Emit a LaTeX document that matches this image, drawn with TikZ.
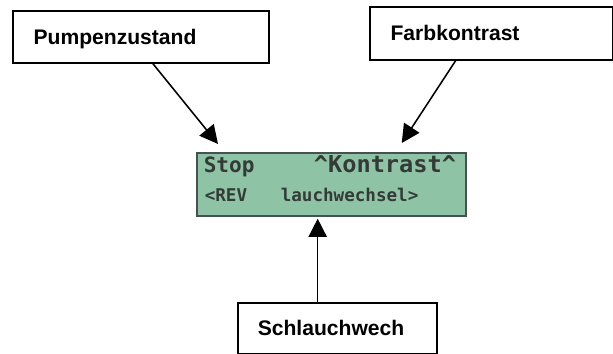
\documentclass[tikz,border=0pt]{standalone}
\usepackage{fontspec}
\setmainfont{Liberation Sans}
\newfontfamily\lcdfont{DejaVu Sans Mono}
\usetikzlibrary{arrows.meta}

\definecolor{lcdgreen}{RGB}{142,195,166}
\definecolor{lcdframe}{RGB}{70,82,82}
\definecolor{lcdink}{RGB}{52,58,54}

\begin{document}
\begin{tikzpicture}[
  x=0.025cm, y=-0.025cm,
  line width=1.1pt,
  %% Main node styles
  label box/.style={
    draw=black, fill=white, align=left, anchor=north west,
    inner xsep=0.52cm, inner ysep=0pt, text depth=0pt,
    font=\fontsize{15}{17}\selectfont\bfseries
  },
  display/.style={
    draw=lcdframe, fill=lcdgreen, line width=1.2pt, anchor=north west,
    minimum width=6.725cm, minimum height=1.575cm, inner sep=0pt
  },
  lcd big/.style={
    anchor=base west, inner sep=0pt, text=lcdink,
    font=\lcdfont\bfseries\fontsize{15}{15}\selectfont
  },
  lcd small/.style={
    anchor=base west, inner sep=0pt, text=lcdink,
    font=\lcdfont\bfseries\fontsize{12.5}{12.5}\selectfont
  },
  pointer/.style={
    -{Triangle[length=13pt, width=13pt]}, line width=1.1pt, black
  },
]
\useasboundingbox (0,0) rectangle (613,354);

%% ── LABEL BOXES ───────────────────────────────────────────────────────────
\node[label box, text width=5.36cm, minimum height=1.3cm] (pump) at (12,10)
  {Pumpenzustand};
\node[label box, text width=5.035cm, minimum height=1.325cm] (farb) at (369,6)
  {Farbkontrast};
\node[label box, inner xsep=0.5cm, text width=3.975cm, minimum height=1.275cm] (schl) at (237,302)
  {Schlauchwech};

%% ── DISPLAY ───────────────────────────────────────────────────────────────
\node[display] (lcd) at (196,152) {};
\node[lcd big]   (stop)  at (203,173) {Stop};
\node[lcd big, xscale=1.12, yscale=1.1, transform shape] (kontr) at (313,173)
  {\textasciicircum Kontrast\textasciicircum};
\node[lcd small] (rev)   at (204,202) {<REV};
\node[lcd small, xscale=1.0, transform shape] (wechs) at (280,202) {lauchwechsel>};

%% ── ARROWS ────────────────────────────────────────────────────────────────
%% Pumpenzustand → display
\draw[pointer] ([xshift=0.3cm]pump.south) -- ([xshift=0.55cm, yshift=0.2cm]lcd.north west);

%% Farbkontrast → display
\draw[pointer] ([xshift=-0.89cm]farb.south) -- ([xshift=-1.625cm, yshift=0.225cm]lcd.north east);

%% Schlauchwech → display
\draw[pointer] ([xshift=-0.49cm]schl.north) -- ([xshift=-0.49cm, yshift=-0.05cm]schl.north |- lcd.south);

\end{tikzpicture}
\end{document}
